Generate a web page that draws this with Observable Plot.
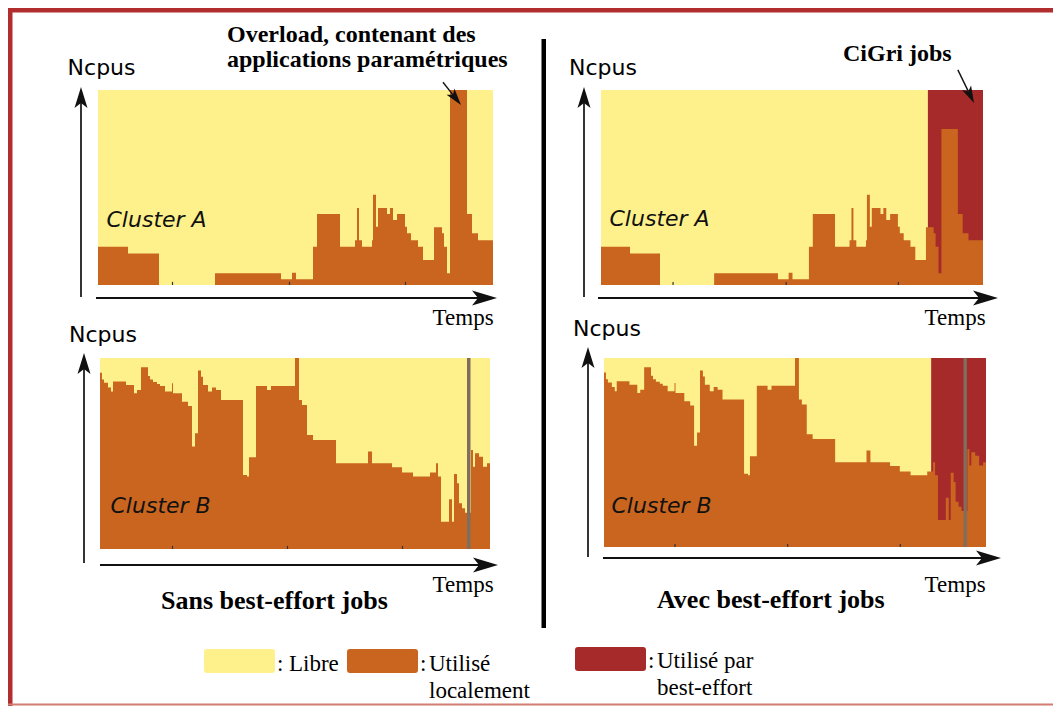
<!DOCTYPE html>
<html><head><meta charset="utf-8">
<script src="https://cdn.jsdelivr.net/npm/d3@7"></script>
<script src="https://cdn.jsdelivr.net/npm/@observablehq/plot@0.6"></script>
<style>
html,body{margin:0;padding:0;background:#fff;}
#page{position:relative;width:1053px;height:706px;overflow:hidden;background:#fff;}
.panel{position:absolute;}
#overlay{position:absolute;left:0;top:0;pointer-events:none;}
</style></head><body><div id="page"></div>
<script>
// ---------- DATA ----------
// Cluster A: step start times (arbitrary time units) and % of CPUs used locally
const clusterA_t    = [0,30,61,117,183,194,198,215,219,242,257,259,261,264,274,275,278,280,289,292,295,299,307,309,313,320,325,336,344,346,349,352,369,374,380,395];
const clusterA_sans = [19.6,16.2,0,6,2.9,6.3,2.9,19.6,36.4,19.6,23,39.5,23,19.6,23,46.3,29.9,39.5,36.4,39.5,33.3,36.4,29.9,26.5,23,19.6,12.8,29.6,26.5,19.6,6,100,36.4,26.5,23,23];
const clusterA_avec = [19.6,16.2,0,6,2.9,6.3,2.9,19.6,36.4,19.6,23,39.5,23,19.6,23,46.3,29.9,39.5,36.4,39.5,33.3,36.4,29.9,26.5,23,19.6,12.8,29.6,26.5,19.6,6,80,36.4,26.5,23,23];
const clusterA_end = 395;
const clusterA_ticks = [74,191,307];
const clusterA_bestEffortStart = 338;

// Cluster B
const clusterB_t = [0,2,4,8,11,13,26,34,37,41,48,50,53,57,60,65,72,73,82,88,92,95,98,101,103,108,112,116,121,143,147,149,156,167,171,195,199,202,207,213,236,268,272,292,302,313,330,336,338,341,349,352,354,357,359,362,365,371,373,375,379,383,387,390];
const clusterB_v = [92.3,88.8,87,84.6,82.4,87.7,85.9,81.5,83.2,95.1,90.6,88.8,87.4,86.4,85.3,82.4,86.8,81.5,77.1,74.9,53.6,60.6,93.4,90.2,85.9,82.4,84.6,83.2,78,38.7,37.9,48,85.3,83.2,85.3,100,78,75.4,59.7,57.1,44.9,51,44.9,42.8,40,37.9,40,44.9,37.9,14.3,26,14.3,39.3,34.4,23.9,21.3,19,51.8,43.1,50.1,48.3,43.1,44.9,44.9];
const clusterB_end = 390;
const clusterB_ticks = [72,187,302];
const clusterB_bestEffortStart = 334;
const clusterB_marker = [[367,370.5]];

// legend
const legendLabels = ["Libre", "Utilisé localement", "Utilisé par best-effort"];

const YELLOW = "#fef18b", ORANGE = "#c9651e", RED = "#a62a2a", GRAY = "#7f6e5e";

// ---------- HELPERS ----------
function series(ts, vs){ return ts.map((t,i)=>({t, v: vs[i]})); }

function arrow(g, x1, y1, x2, y2, o = {}){
  const sw = o.sw ?? 2, hl = o.hl ?? 22, hw = o.hw ?? 14, notch = o.notch ?? 5, color = o.color ?? "#111";
  const dx = x2-x1, dy = y2-y1, L = Math.hypot(dx,dy), ux = dx/L, uy = dy/L, px = -uy, py = ux;
  const bx = x2-ux*hl, by = y2-uy*hl, nx = x2-ux*(hl-notch), ny = y2-uy*(hl-notch);
  g.append("line").attr("x1",x1).attr("y1",y1).attr("x2",nx).attr("y2",ny)
    .attr("stroke",color).attr("stroke-width",sw);
  g.append("path").attr("d",`M${x2},${y2}L${bx+px*hw/2},${by+py*hw/2}L${nx},${ny}L${bx-px*hw/2},${by-py*hw/2}Z`)
    .attr("fill",color);
}

const page = document.getElementById("page");

function panel(cfg){
  const {frame, end, data, beStart, markers, ticks, label, labelDx, labelDy, yArr, xArr, note} = cfg;
  const mL = 30, mT = 30, mR = 24, mB = 30;
  const fw = frame.x1-frame.x0, fh = frame.y1-frame.y0;
  const freeEnd = beStart ?? end;
  const marks = [
    Plot.rect([{a:0, b:freeEnd}], {x1:"a", x2:"b", y1:0, y2:100, fill:YELLOW}),
  ];
  if (beStart != null) marks.push(Plot.rect([{a:beStart, b:end}], {x1:"a", x2:"b", y1:0, y2:100, fill:RED}));
  marks.push(Plot.areaY(data, {x:"t", y:"v", curve:"step-after", fill:ORANGE}));
  if (markers) marks.push(Plot.rect(markers, {x1:d=>d[0], x2:d=>d[1], y1:0, y2:100, fill:GRAY}));
  marks.push(Plot.ruleX(ticks, {x:d=>d, y1:0, y2:1.6, stroke:"#333", strokeWidth:1.2}));
  marks.push(Plot.text([label], {text:d=>d, frameAnchor:"top-left", dx:labelDx, dy:labelDy, textAnchor:"start",
    fontSize:22, fontStyle:"italic", fontFamily:"DejaVu Sans", fill:"#111"}));
  const svg = Plot.plot({
    width: fw+mL+mR, height: fh+mT+mB,
    marginLeft: mL, marginTop: mT, marginRight: mR, marginBottom: mB,
    x: {domain:[0,end], axis:null},
    y: {domain:[0,100], axis:null},
    style: {background:"transparent", overflow:"visible"},
    marks
  });
  const x = svg.scale("x"), y = svg.scale("y");
  const g = d3.select(svg).append("g");
  const xl = x.apply(0), xr = x.apply(end), yb = y.apply(0), yt = y.apply(100);
  arrow(g, xl+yArr.dx, yb+yArr.below, xl+yArr.dx, yt-yArr.above, {sw:1.7, hl:21, hw:13, notch:5});
  arrow(g, xl+xArr.start, yb+xArr.dy, xr+xArr.endOff, yb+xArr.dy, {sw:2, hl:25, hw:15, notch:6});
  if (note) arrow(g, x.apply(note[0][0]), y.apply(note[0][1]), x.apply(note[1][0]), y.apply(note[1][1]), {sw:1.4, hl:17, hw:10, notch:4});
  const wrap = document.createElement("div");
  wrap.className = "panel";
  wrap.style.left = (frame.x0-mL)+"px";
  wrap.style.top = (frame.y0-mT)+"px";
  wrap.appendChild(svg);
  page.appendChild(wrap);
}

panel({frame:{x0:98,y0:90,x1:493,y1:285}, end:clusterA_end, data:series(clusterA_t, clusterA_sans),
  ticks:clusterA_ticks, label:"Cluster A", labelDx:8, labelDy:121,
  yArr:{dx:-17, below:12, above:3}, xArr:{dy:13, start:-2, endOff:4},
  note:[[345,104],[363,92.3]]});
panel({frame:{x0:601,y0:90,x1:983,y1:285}, end:clusterA_end, data:series(clusterA_t, clusterA_avec),
  beStart:clusterA_bestEffortStart, ticks:clusterA_ticks, label:"Cluster A", labelDx:8, labelDy:120,
  yArr:{dx:-17, below:12, above:3}, xArr:{dy:13, start:-3, endOff:15},
  note:[[369,110.3],[385.7,93.3]]});
panel({frame:{x0:100,y0:358,x1:490,y1:549}, end:clusterB_end, data:series(clusterB_t, clusterB_v),
  markers:clusterB_marker, ticks:clusterB_ticks, label:"Cluster B", labelDx:10, labelDy:139,
  yArr:{dx:-16, below:14, above:5}, xArr:{dy:16, start:0, endOff:8}});
panel({frame:{x0:604,y0:358,x1:986,y1:547}, end:clusterB_end, data:series(clusterB_t, clusterB_v),
  beStart:clusterB_bestEffortStart, markers:clusterB_marker, ticks:clusterB_ticks, label:"Cluster B", labelDx:7, labelDy:139,
  yArr:{dx:-16, below:10, above:11}, xArr:{dy:11, start:-1, endOff:15}});

// ---------- OVERLAY: frame, divider, texts, legend ----------
const ov = d3.select(page).append("svg").attr("id","overlay").attr("width",1053).attr("height",706);
ov.append("rect").attr("x",8).attr("y",8).attr("width",1053).attr("height",4.5).attr("fill","#b22e2e");
ov.append("rect").attr("x",8).attr("y",8).attr("width",4.5).attr("height",706).attr("fill","#b22e2e");
ov.append("rect").attr("x",8).attr("y",703.5).attr("width",1053).attr("height",2).attr("fill","#d27d72");
ov.append("rect").attr("x",541.5).attr("y",39).attr("width",4.5).attr("height",589).attr("fill","#000");

function txt(s, x, yb, o = {}){
  ov.append("text").attr("x",x).attr("y",yb).text(s)
    .attr("font-family", o.family ?? "Liberation Serif")
    .attr("font-size", o.size ?? 23)
    .attr("font-weight", o.weight ?? "normal")
    .attr("fill","#000");
}
const SANS = {family:"DejaVu Sans", size:22};
txt("Ncpus", 67.6, 75, SANS); txt("Ncpus", 569, 75, SANS);
txt("Ncpus", 69, 341.5, SANS); txt("Ncpus", 573, 335.5, SANS);
txt("Temps", 432.6, 325); txt("Temps", 924.6, 325);
txt("Temps", 432.6, 591.7); txt("Temps", 924.6, 591.7);
const B24 = {weight:"bold", size:24};
txt("Overload, contenant des", 227, 42, B24);
txt("applications paramétriques", 227, 67, B24);
txt("CiGri jobs", 843, 61, B24);
const B26 = {weight:"bold", size:26};
txt("Sans best-effort jobs", 161, 609, B26);
txt("Avec best-effort jobs", 657, 608, B26);

// legend
const legendColors = [YELLOW, ORANGE, RED];
const swatches = [[204,649],[347,649],[575,647]];
swatches.forEach(([x,y],i)=> ov.append("rect").attr("x",x).attr("y",y).attr("width",71).attr("height",24)
  .attr("rx",3).attr("fill",legendColors[i]));
txt(":", 277, 671); txt(legendLabels[0], 289, 671);
txt(":", 420, 671); txt("Utilisé", 429, 671); txt("localement", 429, 698);
txt(":", 648, 668); txt("Utilisé par", 657, 668); txt("best-effort", 657, 695);
</script></body></html>
